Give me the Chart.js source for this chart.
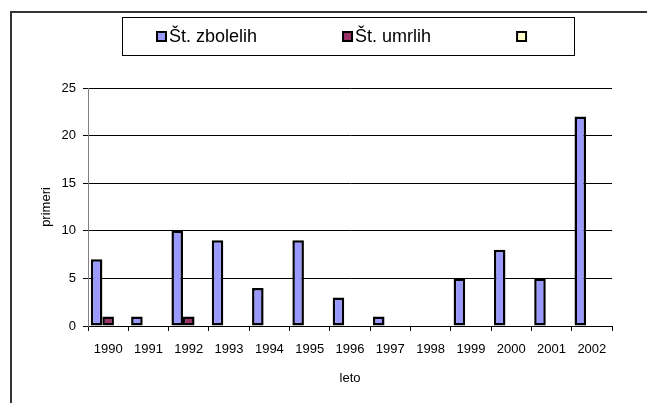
<!DOCTYPE html>
<html>
<head>
<meta charset="utf-8">
<script src="https://cdn.jsdelivr.net/npm/chart.js@4.4.1/dist/chart.umd.min.js"></script>
<style>
  html, body { margin: 0; padding: 0; background: #fff; }
</style>
</head>
<body>
<canvas id="chart" width="647" height="403"></canvas>
<script>
const years = ["1990", "1991", "1992", "1993", "1994", "1995", "1996",
               "1997", "1998", "1999", "2000", "2001", "2002"];
const cases = [7, 1, 10, 9, 4, 9, 3, 1, 0, 5, 8, 5, 22];
const deaths = [1, 0, 1, 0, 0, 0, 0, 0, 0, 0, 0, 0, 0];
const empty = [];
const seriesNames = ["Št. zbolelih", "Št. umrlih", ""];

const FONT = "'Liberation Sans', Arial, sans-serif";

// frame around the whole chart object (cut off at right and bottom)
const framePlugin = {
    id: "frame",
    beforeDraw(chart) {
        const ctx = chart.ctx;
        ctx.save();
        ctx.strokeStyle = "#333";
        ctx.lineWidth = 2;
        ctx.strokeRect(11, 12, chart.width + 20, chart.height + 20);
        ctx.restore();
    }
};

// Excel-style boxed legend
const boxLegend = {
    id: "boxLegend",
    afterDraw(chart) {
        const ctx = chart.ctx;
        const box = { x: 122.5, y: 17.5, w: 452, h: 38 };
        const mark = 9, gap = 3, spacing = 86;
        ctx.save();
        ctx.strokeStyle = "#000";
        ctx.lineWidth = 1;
        ctx.strokeRect(box.x, box.y, box.w, box.h);
        ctx.font = "18px " + FONT;
        let x = 157;
        const cy = box.y + box.h / 2;
        chart.data.datasets.forEach(ds => {
            ctx.fillStyle = ds.backgroundColor;
            ctx.fillRect(x, cy - mark / 2, mark, mark);
            ctx.lineWidth = 2;
            ctx.strokeStyle = "#000";
            ctx.strokeRect(x, cy - mark / 2, mark, mark);
            let w = mark;
            if (ds.label) {
                ctx.fillStyle = "#000";
                ctx.textBaseline = "middle";
                ctx.fillText(ds.label, x + mark + gap, cy + 1);
                w += gap + ctx.measureText(ds.label).width;
            }
            x += w + spacing;
        });
        ctx.restore();
    }
};

new Chart(document.getElementById("chart").getContext("2d"), {
    type: "bar",
    data: {
        labels: years,
        datasets: [
            { label: seriesNames[0], data: cases, backgroundColor: "#9999ff" },
            { label: seriesNames[1], data: deaths, backgroundColor: "#993366" },
            { label: seriesNames[2], data: empty, backgroundColor: "#ffffcc" }
        ].map(ds => Object.assign(ds, {
            borderColor: "#000",
            borderWidth: 2.5,
            borderSkipped: false,
            categoryPercentage: 0.86,
            barPercentage: 1
        }))
    },
    options: {
        responsive: false,
        animation: false,
        layout: { padding: { top: 88, right: 35, left: 0, bottom: 0 } },
        plugins: {
            legend: { display: false },
            tooltip: { enabled: false }
        },
        scales: {
            x: {
                afterFit(scale) { scale.height = 77; },
                grid: {
                    display: true,
                    drawOnChartArea: false,
                    drawTicks: true,
                    tickLength: 5,
                    color: "#000"
                },
                border: { color: "#000", width: 1 },
                ticks: {
                    color: "#000",
                    padding: 11,
                    maxRotation: 0,
                    autoSkip: false,
                    font: { family: FONT, size: 13 }
                },
                title: {
                    display: true,
                    text: "leto",
                    color: "#000",
                    font: { family: FONT, size: 13 },
                    padding: { top: 0, bottom: 17 }
                }
            },
            y: {
                min: 0,
                max: 25,
                afterFit(scale) { scale.width = 88; },
                grid: {
                    color: "#000",
                    tickLength: 5,
                    lineWidth: 1
                },
                border: { color: "#808080", width: 1 },
                ticks: {
                    stepSize: 5,
                    color: "#000",
                    padding: 7,
                    font: { family: FONT, size: 13 }
                },
                title: {
                    display: true,
                    text: "primeri",
                    color: "#000",
                    font: { family: FONT, size: 13 },
                    padding: { top: 39, bottom: 0 }
                }
            }
        }
    },
    plugins: [framePlugin, boxLegend]
});
</script>
</body>
</html>
